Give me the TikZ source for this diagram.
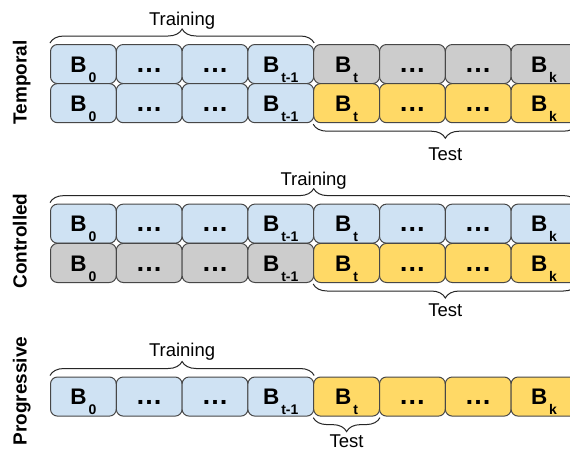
\documentclass[tikz,border=0pt]{standalone}
\usepackage{fontspec}
\setmainfont{Liberation Sans}
\usetikzlibrary{decorations.pathreplacing}
\definecolor{cblue}{HTML}{CFE2F3}
\definecolor{cgray}{HTML}{CCCCCC}
\definecolor{cyel}{HTML}{FFD966}
\definecolor{cedge}{HTML}{474747}
\newcommand{\Bsub}[1]{B\kern1.8pt\raisebox{-10pt}{\fontsize{14}{14}\selectfont #1}}
\newcommand{\dotsx}{{\fontsize{27}{27}\selectfont …}}
\tikzset{
 blk/.style={draw=cedge, line width=1pt, rounded corners=7pt, minimum width=65.8pt,
   minimum height=39.1pt, inner sep=0pt, text height=16.6pt, text depth=0pt,
   font=\fontsize{22.5}{23}\selectfont\bfseries},
 bl/.style={blk, fill=cblue},
 gr/.style={blk, fill=cgray},
 ye/.style={blk, fill=cyel},
 brc/.style={decorate, decoration={brace, amplitude=14pt, raise=1pt}, line width=1pt, draw=black!85},
 lbl/.style={font=\fontsize{18.5}{19}\selectfont, anchor=base, inner sep=0pt},
 side/.style={font=\fontsize{19}{19}\selectfont\bfseries, rotate=90, anchor=base, inner sep=0pt}
}
\newcommand{\blkrow}[4]{%
 \foreach \i/\txt in {1/{\Bsub{0}},2/{\dotsx},3/{\dotsx},4/{\Bsub{t-1}}}
   \node[#3] (#1\i) at ({83.4+65.8*(\i-1)},#2) {\txt};
 \foreach \i/\txt in {5/{\Bsub{t}},6/{\dotsx},7/{\dotsx},8/{\Bsub{k}}}
   \node[#4] (#1\i) at ({83.4+65.8*(\i-1)},#2) {\txt};
}
\begin{document}
\begin{tikzpicture}[x=1pt,y=-1pt]
\useasboundingbox (0,0) rectangle (570,448);
\fill[white] (0,0) rectangle (570,448);
\clip (0,0) rectangle (570,448);
% Temporal
\blkrow{ta}{64.05}{bl}{gr}
\blkrow{tb}{103.15}{bl}{ye}
\draw[brc] (ta1.north west) -- (ta4.north east);
\draw[brc] (tb8.south east) -- (tb5.south west);
\node[lbl] (ttr) at (182.1,25) {Training};
\node[lbl] (tte) at (445.3,160) {Test};
\node[side] (lt) at (26.5,82.5) {Temporal};
% Controlled
\blkrow{ca}{223.65}{bl}{bl}
\blkrow{cb}{262.95}{gr}{ye}
\draw[brc] (ca1.north west) -- (ca8.north east);
\draw[brc] (cb8.south east) -- (cb5.south west);
\node[lbl] (ctr) at (313.7,185) {Training};
\node[lbl] (cte) at (445.3,316.7) {Test};
\node[side] (lc) at (26.5,241) {Controlled};
% Progressive
\blkrow{p}{396.55}{bl}{ye}
\draw[brc] (p1.north west) -- (p4.north east);
\draw[brc] (p5.south east) -- (p5.south west);
\node[lbl] (ptr) at (182.1,356.7) {Training};
\node[lbl] (pte) at (346.6,447.5) {Test};
\node[side] (lp) at (26.5,391) {Progressive};
\end{tikzpicture}
\end{document}
